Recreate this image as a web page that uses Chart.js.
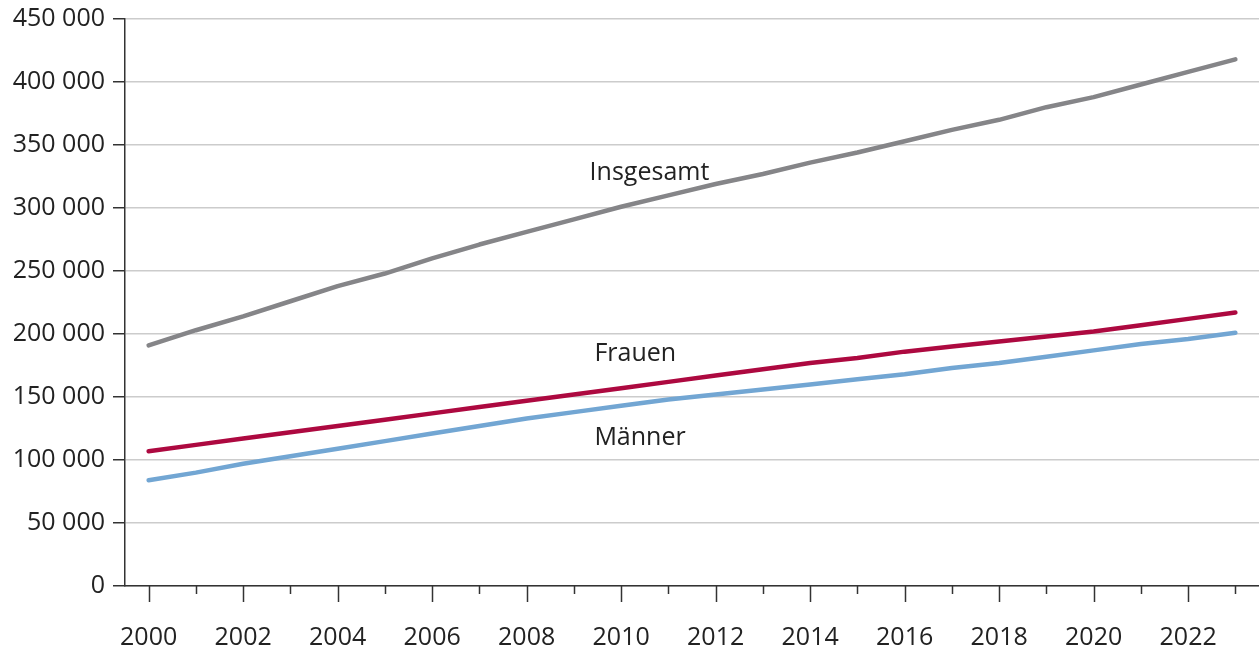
<!DOCTYPE html>
<html>
<head>
<meta charset="utf-8">
<script src="https://cdn.jsdelivr.net/npm/chart.js@4"></script>
<style>
  html, body { margin: 0; padding: 0; background: #fff; }
  #wrap { width: 1259px; height: 647px; }
</style>
</head>
<body>
<div id="wrap"><canvas id="chart" width="1259" height="647"></canvas></div>
<script>
const years = ["2000","2001","2002","2003","2004","2005","2006","2007","2008","2009","2010","2011",
               "2012","2013","2014","2015","2016","2017","2018","2019","2020","2021","2022","2023"];

// values in persons
const insgesamt = [191000,203000,214000,226000,238000,248000,260000,271000,281000,291000,301000,310000,
                   319000,327000,336000,344000,353000,362000,370000,380000,388000,398000,408000,418000];
const frauen    = [107000,112000,117000,122000,127000,132000,137000,142000,147000,152000,157000,162000,
                   167000,172000,177000,181000,186000,190000,194000,198000,202000,207000,212000,217000];
const maenner   = [84000,90000,97000,103000,109000,115000,121000,127000,133000,138000,143000,148000,
                   152000,156000,160000,164000,168000,173000,177000,182000,187000,192000,196000,201000];

const yTicks = [0,50000,100000,150000,200000,250000,300000,350000,400000,450000];

// line labels: [text, category position, value]
const lineLabels = [
  ["Insgesamt", 10.6, 328000],
  ["Frauen",    10.3, 184000],
  ["Männer",    10.4, 117500]
];

const FONT = "'Open Sans', 'Liberation Sans', sans-serif";
const TEXT = "#222";

function fmt(v) {
  return String(v).replace(/\B(?=(\d{3})+(?!\d))/g, " ");
}

/** small/large year ticks under the x axis */
const yearTicks = {
  id: "yearTicks",
  afterDraw(chart) {
    const x = chart.scales.x;
    const ctx = chart.ctx;
    ctx.save();
    ctx.strokeStyle = "#333";
    ctx.lineWidth = 1.5;
    years.forEach((y, i) => {
      const px = Math.round(x.getPixelForTick(i)) + 0.5;
      const len = (i % 2 === 0) ? 16 : 8;
      ctx.beginPath();
      ctx.moveTo(px, x.top);
      ctx.lineTo(px, x.top + len);
      ctx.stroke();
    });
    ctx.restore();
  }
};

/** series names written next to the lines */
const seriesNames = {
  id: "seriesNames",
  afterDatasetsDraw(chart) {
    const ctx = chart.ctx;
    const xs = chart.scales.x, ys = chart.scales.y;
    ctx.save();
    ctx.font = "25px " + FONT;
    ctx.fillStyle = TEXT;
    ctx.textAlign = "center";
    ctx.textBaseline = "middle";
    lineLabels.forEach(([txt, xi, v]) => {
      ctx.fillText(txt, xs.getPixelForValue(xi), ys.getPixelForValue(v));
    });
    ctx.restore();
  }
};

function makeLine(label, data, color) {
  return {
    label, data,
    borderColor: color,
    backgroundColor: color,
    borderWidth: 4.5,
    borderCapStyle: "round",
    borderJoinStyle: "round",
    pointRadius: 0,
    tension: 0,
    fill: false
  };
}

new Chart(document.getElementById("chart"), {
  type: "line",
  data: {
    labels: years,
    datasets: [
      makeLine("Insgesamt", insgesamt, "#858588"),
      makeLine("Frauen", frauen, "#ad0940"),
      makeLine("Männer", maenner, "#72a6d3")
    ]
  },
  options: {
    responsive: false,
    animation: false,
    layout: { padding: { top: 19, right: 0, left: 0, bottom: 0 } },
    plugins: {
      legend: { display: false },
      tooltip: { enabled: false }
    },
    scales: {
      x: {
        offset: true,
        grid: { display: true, drawOnChartArea: false, drawTicks: false },
        border: { color: "#333", width: 1.5 },
        ticks: {
          autoSkip: false,
          maxRotation: 0,
          padding: 37,
          color: TEXT,
          font: { family: FONT, size: 25 },
          callback: (v, i) => (i % 2 === 0 ? years[i] : "")
        },
        afterFit: (s) => { s.height = 61; s.paddingLeft = 0; s.paddingRight = 0; }
      },
      y: {
        min: 0,
        max: 450000,
        afterBuildTicks: (s) => { s.ticks = yTicks.map(v => ({ value: v })); },
        grid: { color: "#cccccc", lineWidth: 1.5, tickLength: 12, tickColor: "#333" },
        border: { color: "#333", width: 1.5 },
        ticks: {
          padding: 8,
          color: TEXT,
          font: { family: FONT, size: 25 },
          callback: (v) => fmt(v)
        },
        afterFit: (s) => { s.width = 125; s.paddingTop = 0; s.paddingBottom = 0; }
      }
    }
  },
  plugins: [yearTicks, seriesNames]
});
</script>
</body>
</html>
